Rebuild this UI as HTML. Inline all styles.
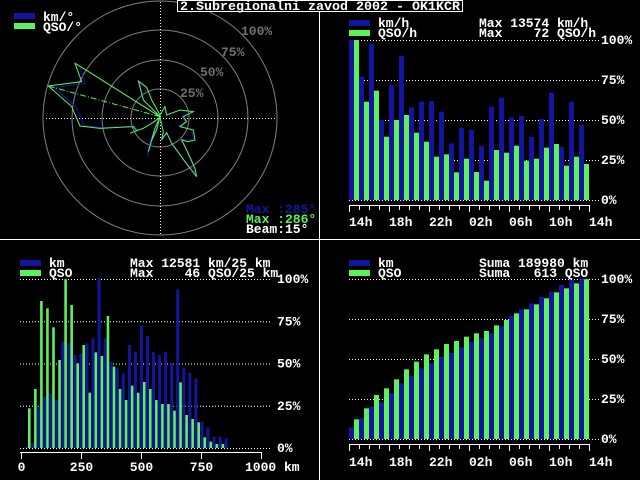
<!DOCTYPE html>
<html><head><meta charset="utf-8"><style>
html,body{margin:0;padding:0;background:#000;}
svg{display:block;}
text{font-family:"Liberation Mono",monospace;font-weight:bold;font-size:13px;fill:#fff;}
</style></head><body>
<svg id="s" width="640" height="480" xmlns="http://www.w3.org/2000/svg">
<rect width="640" height="480" fill="#000"/>
<line x1="319.5" y1="0" x2="319.5" y2="480" stroke="#fff"/>
<line x1="0" y1="239.5" x2="640" y2="239.5" stroke="#fff"/>
<g fill="none" stroke="#808080" stroke-width="1">
<circle cx="160" cy="118" r="29"/><circle cx="160" cy="118" r="58"/><circle cx="160" cy="118" r="88"/><circle cx="160" cy="118" r="117"/>
</g>
<line x1="46" y1="118.5" x2="276" y2="118.5" stroke="#fff" stroke-dasharray="1,2"/>
<line x1="160.5" y1="2" x2="160.5" y2="234" stroke="#fff" stroke-dasharray="1,2"/>
<text x="241" y="35" style="fill:#707070">100%</text>
<text x="221" y="56" style="fill:#707070">75%</text>
<text x="200" y="76" style="fill:#707070">50%</text>
<text x="180" y="97" style="fill:#707070">25%</text>
<g transform="scale(0.33333)" fill="none" stroke-width="3">
<g transform="translate(480,350) scale(0.95) translate(-480,-350)">
<polygon stroke="#1818b0" points="480,350 250,205 225,190 245,245 145,258 215,320 240,378 300,385 400,380 410,392 390,400 430,385 455,370 480,352 490,395 485,420 500,398 515,430 555,485 590,530 585,505 560,450 545,420 565,425 585,420 580,390 540,380 560,365 550,350 580,335 540,330 500,345 495,320 480,345 455,300 440,262 415,243 430,300 480,350"/>
<polygon stroke="#1818b0" points="480,350 470,380 440,475 450,420 465,395"/>
</g>
<polygon stroke="#5cf05c" points="480,350 250,205 225,190 245,245 145,258 215,320 240,378 300,385 400,380 410,392 390,400 430,385 455,370 480,352 490,395 485,420 500,398 515,430 555,485 590,530 585,505 560,450 545,420 565,425 585,420 580,390 540,380 560,365 550,350 580,335 540,330 500,345 495,320 480,345 455,300 440,262 415,243 430,300 480,350"/>
<polygon stroke="#5cf05c" points="480,350 465,385 445,455 455,420 470,390"/>
<line x1="145" y1="258" x2="480" y2="350" stroke="#5cf05c" stroke-dasharray="18,6,3,6"/>
</g>
<rect x="14" y="13" width="21" height="6" fill="#1414a0"/>
<rect x="14" y="23" width="21" height="6" fill="#5cf05c"/>
<text x="43" y="21">km/°</text>
<text x="43" y="31">QSO/°</text>
<text x="246" y="213" style="fill:#1414a0">Max :285°</text>
<text x="246" y="223" style="fill:#5cf05c">Max :286°</text>
<text x="246" y="233">Beam:15°</text>
<rect x="177.5" y="0.5" width="285" height="11" fill="#000" stroke="#fff"/>
<text x="180" y="10" textLength="280" lengthAdjust="spacingAndGlyphs">2.Subregionalni zavod 2002 - OK1KCR</text>
<rect x="349" y="20" width="21" height="6" fill="#1414a0"/>
<rect x="349" y="30" width="21" height="6" fill="#5cf05c"/>
<text x="378" y="27">km/h</text><text x="378" y="37">QSO/h</text>
<text x="479" y="27" xml:space="preserve">Max 13574 km/h</text>
<text x="479" y="37" xml:space="preserve">Max    72 QSO/h</text>
<rect x="20" y="260" width="21" height="6" fill="#1414a0"/>
<rect x="20" y="270" width="21" height="6" fill="#5cf05c"/>
<text x="49" y="267">km</text><text x="49" y="277">QSO</text>
<text x="130" y="267" xml:space="preserve">Max 12581 km/25 km</text>
<text x="130" y="277" xml:space="preserve">Max    46 QSO/25 km</text>
<rect x="349" y="260" width="21" height="6" fill="#1414a0"/>
<rect x="349" y="270" width="21" height="6" fill="#5cf05c"/>
<text x="378" y="267">km</text><text x="378" y="277">QSO</text>
<text x="479" y="267" xml:space="preserve">Suma 189980 km</text>
<text x="479" y="277" xml:space="preserve">Suma   613 QSO</text>
<g id="dyn"></g>
</svg>
<script>
var NS="http://www.w3.org/2000/svg",g=document.getElementById("dyn");
function el(t,a,txt){var e=document.createElementNS(NS,t);for(var k in a)e.setAttribute(k,a[k]);if(txt!=null)e.textContent=txt;g.appendChild(e);return e;}
var BL="#1414a0",GR="#5cf05c";
function grid(x1,x2,base,top,lx){for(var i=0;i<=4;i++){var y=base-(base-top)*i/4;
el("line",{x1:x1,x2:x2,y1:y+0.5,y2:y+0.5,stroke:"#fff","stroke-dasharray":"1,2"});
el("text",{x:lx,y:y+4},["0%","25%","50%","75%","100%"][i]);}}
grid(349,600,200,40,601);
var B1=[120,230,132,360,255,168,322,305,303,335,430,383,390,438,320,293,352,348,410,357,278,440,305,375];
var G1=[120,305,272,410,360,345,398,425,470,463,517,476,516,542,450,458,437,482,476,443,432,497,470,492];
for(var i=0;i<24;i++){var x=349+10*i;var yb=B1[i]/3,yg=G1[i]/3;
el("rect",{x:x,y:yb,width:5,height:200-yb,fill:BL});el("rect",{x:x+5,y:yg,width:5,height:200-yg,fill:GR});}
function hours(ay,ly){el("line",{x1:349,x2:590,y1:ay+0.5,y2:ay+0.5,stroke:"#fff"});
for(var i=0;i<=24;i++){var x=349.5+10*i;el("line",{x1:x,x2:x,y1:ay,y2:ay+(i%4==0?7:5),stroke:"#fff"});}
var L=["14h","18h","22h","02h","06h","10h","14h"];for(var j=0;j<7;j++)el("text",{x:349+40*j,y:ly},L[j]);}
hours(205,226);
grid(349,600,439,279,601);
var G4=[538,505,465,445,418,388,365,343,328,312,303,290,280,273,256,240,220,208,193,175,157,145,130,118];
var B4=[562,535,500,487,460,430,408,385,370,350,338,322,305,295,280,258,228,208,190,170,155,135,120,118];
for(var i=0;i<24;i++){var x=349+10*i;var yb=240+B4[i]/3,yg=240+G4[i]/3;
el("rect",{x:x,y:yb,width:5,height:439-yb,fill:BL});el("rect",{x:x+5,y:yg,width:5,height:439-yg,fill:GR});}
hours(444,466);
grid(20,272,448,279,277);
var B3=[620,608,500,470,460,480,305,310,345,340,310,295,115,295,365,385,400,315,335,258,288,335,345,335,370,148,382,398,415,545,562,590,590,595,625,625,625,625,625,625];
var G3=[505,447,183,205,262,360,118,195,370,315,458,337,348,228,380,447,480,437,458,426,447,480,492,492,512,427,525,537,547,592,605,612,612,625,625,625,625,625,625,625];
for(var i=0;i<40;i++){var x=25+6.05*i;var yb=240+B3[i]/3,yg=240+G3[i]/3;
if(448-yb>0.5)el("rect",{x:x,y:yb,width:3,height:448-yb,fill:BL});
if(448-yg>0.5)el("rect",{x:x+3,y:yg,width:2.6,height:448-yg,fill:GR});}
el("line",{x1:20,x2:262,y1:452.5,y2:452.5,stroke:"#fff"});
var KL=["0","250","500","750"];for(var j=0;j<5;j++){var x=21.5+60*j;el("line",{x1:x,x2:x,y1:452,y2:459,stroke:"#fff"});if(j<4)el("text",{x:x,y:471,"text-anchor":"middle"},KL[j]);}
el("text",{x:245,y:471},"1000 km");
</script>
</body></html>
